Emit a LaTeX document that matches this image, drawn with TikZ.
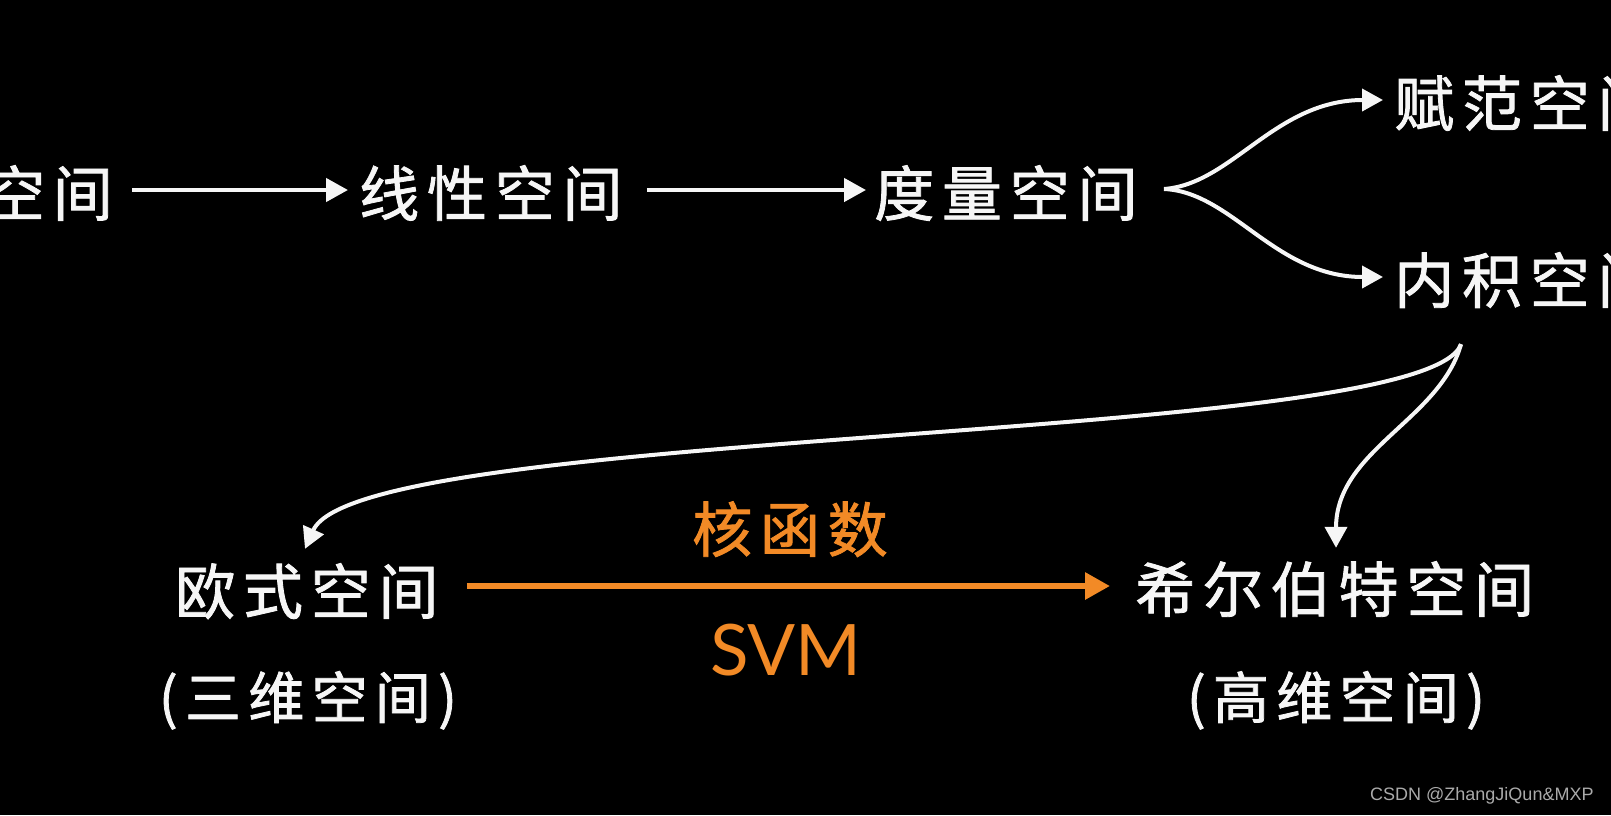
\documentclass[tikz,border=0pt]{standalone}
\usepackage{fontspec}
\newfontfamily\cjk[FakeBold=1.4,LetterSpace=13]{Noto Sans CJK SC}
\newfontfamily\latinsvm{Lato}
\newfontfamily\wmfont{Liberation Sans}
\usetikzlibrary{arrows.meta}
\definecolor{ink}{RGB}{246,246,246}
\definecolor{orng}{RGB}{242,138,38}
\definecolor{wm}{RGB}{170,170,170}
\tikzset{
  big/.style={text=ink, font=\cjk\fontsize{60}{60}\selectfont, inner sep=0pt,
    text height=50pt, text depth=4pt, anchor=west},
  sub/.style={text=ink, font=\cjk\fontsize{56}{56}\selectfont, inner sep=0pt,
    text height=47pt, text depth=4pt},
  warr/.style={draw=ink, line width=4.5pt, -{Triangle[length=22pt,width=23pt]}},
  carr/.style={draw=ink, line width=4pt, -{Triangle[length=21pt,width=22pt]}},
  oarr/.style={draw=orng, line width=6pt, -{Triangle[length=25pt,width=26pt]}},
}
\begin{document}
\begin{tikzpicture}[x=1pt,y=-1pt]
\fill[black] (0,0) rectangle (1611,815);
\useasboundingbox (0,0) rectangle (1611,815);
\clip (0,0) rectangle (1611,815);

% top row
\node[big] (n0) at (-15,193) {空间};
\node[big] (n1) at (359,193) {线性空间};
\node[big] (n2) at (874,193) {度量空间};
\node[big] (n3) at (1394,103) {赋范空间};
\node[big] (n4) at (1394,280) {内积空间};

% bottom row
\node[big] (n5) at (175,591) {欧式空间};
\node[big] (n6) at (1135,589) {希尔伯特空间};
\node[sub] (p5) at (308,697) {(三维空间)};
\node[sub] (p6) at (1336,697) {(高维空间)};
\node[text=orng, font=\cjk\fontsize{60}{60}\selectfont, inner sep=0pt,
  text height=50pt, text depth=4pt] (kf) at (790,529) {核函数};
\node[text=orng, font=\latinsvm\fontsize{71}{71}\selectfont, inner sep=0pt,
  anchor=base] (svm) at (786,675) {SVM};

% straight arrows
\draw[warr, shorten <=19pt, shorten >=11pt] ([yshift=3pt]n0.east) -- ([yshift=3pt]n1.west);
\draw[warr, shorten <=24pt, shorten >=8pt] ([yshift=3pt]n1.east) -- ([yshift=3pt]n2.west);

% fork
\coordinate (fork) at (1164,189);
\draw[carr] (fork) .. controls (1232,184) and (1275,100) .. ([xshift=-11pt,yshift=3pt]n3.west);
\draw[carr] (fork) .. controls (1232,192) and (1275,277) .. ([xshift=-11pt,yshift=3pt]n4.west);

% split from inner product space
\coordinate (split) at ([xshift=67pt,yshift=-37pt]n4.south west);
\draw[carr] (split) .. controls (1425,445) and (360,425) .. ([xshift=130pt,yshift=15pt]n5.north west);
\draw[carr] (split) .. controls (1440,420) and (1336,450) .. ([xshift=201pt,yshift=14pt]n6.north west);

% kernel arrow
\draw[oarr, shorten <=28pt, shorten >=25pt] ([yshift=5pt]n5.east) -- ([yshift=3pt]n6.west);

% watermark
\node[text=wm, font=\wmfont\fontsize{18}{18}\selectfont, inner sep=0pt, anchor=base west] (mark) at (1370,800) {CSDN @ZhangJiQun\&MXP};
\end{tikzpicture}
\end{document}
